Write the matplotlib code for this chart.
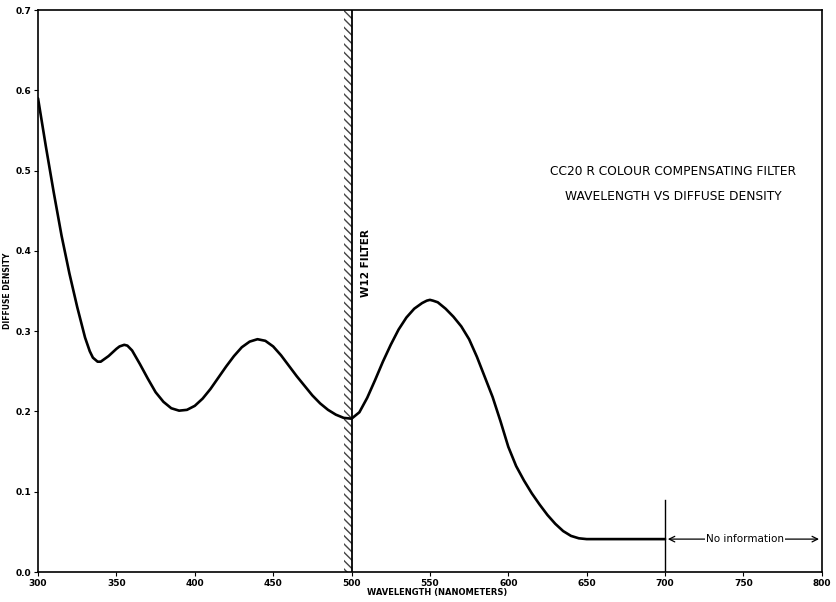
import matplotlib
matplotlib.use('Agg')
from matplotlib import pyplot as plt
import numpy as np

# wavelength (nm) and diffuse density
wavelength = [300, 305, 310, 315, 320, 325, 330, 333, 335, 338, 340, 345, 350, 352,
              355, 357, 360, 365, 370, 375, 380, 385, 390, 395, 400, 405, 410, 415,
              420, 425, 430, 435, 440, 445, 450, 455, 460, 465, 470, 475, 480, 485,
              490, 495, 500, 505, 510, 515, 520, 525, 530, 535, 540, 545, 548, 550,
              552, 555, 560, 565, 570, 575, 580, 585, 590, 595, 600, 605, 610, 615,
              620, 625, 630, 635, 640, 645, 650, 700]
density = [0.590, 0.530, 0.473, 0.419, 0.372, 0.330, 0.292, 0.275, 0.267, 0.262,
           0.262, 0.269, 0.278, 0.281, 0.283, 0.282, 0.276, 0.259, 0.241, 0.224,
           0.212, 0.204, 0.201, 0.202, 0.207, 0.216, 0.228, 0.242, 0.256, 0.269,
           0.280, 0.287, 0.290, 0.288, 0.281, 0.270, 0.257, 0.244, 0.232, 0.220,
           0.210, 0.202, 0.196, 0.192, 0.191, 0.199, 0.217, 0.239, 0.262, 0.283,
           0.302, 0.317, 0.328, 0.335, 0.338, 0.339, 0.338, 0.336, 0.328, 0.318,
           0.306, 0.290, 0.268, 0.243, 0.218, 0.188, 0.156, 0.132, 0.114, 0.098,
           0.084, 0.071, 0.060, 0.051, 0.045, 0.042, 0.041, 0.041]

x_ticks = [300, 350, 400, 450, 500, 550, 600, 650, 700, 750, 800]
y_ticks = [0.0, 0.1, 0.2, 0.3, 0.4, 0.5, 0.6, 0.7]
y_labels = ['0.0', '0.1', '0.2', '0.3', '0.4', '0.5', '0.6', '0.7']

filter_edge = 500
info_limit = 700
info_level = 0.041

plt.rcParams['font.family'] = ['DejaVu Sans']

fig = plt.figure(figsize=(8.36, 6.02), dpi=100)
ax = fig.add_axes([0.0455, 0.0498, 0.9375, 0.9335])

#the filter curve
ax.plot(wavelength, density, color='black', lw=1.9, solid_joinstyle='round',
        solid_capstyle='round')

#W12 filter cut-off, hatched strip
ax.axvline(filter_edge, color='black', lw=1.3)
ax.axvspan(filter_edge - 4.5, filter_edge, facecolor='white', edgecolor='#444444',
           hatch='\\\\\\\\', lw=0)
ax.text(filter_edge + 9, 0.385, 'W12 FILTER', rotation=90, ha='center', va='center',
        fontsize=7.5, fontweight='bold')

#no information region
ax.plot([info_limit, info_limit], [0, 0.09], color='black', lw=1.0)
ax.annotate('', xy=(800, info_level), xytext=(info_limit, info_level),
            arrowprops=dict(arrowstyle='<->', lw=0.9, color='black'))
ax.text(751, info_level, 'No information', ha='center', va='center', fontsize=7.5,
        bbox=dict(facecolor='white', edgecolor='none', pad=1))

#titles inside the plot
ax.text(705, 0.4995, 'CC20 R COLOUR COMPENSATING FILTER', ha='center', va='center',
        fontsize=8.8)
ax.text(705, 0.468, 'WAVELENGTH VS DIFFUSE DENSITY', ha='center', va='center',
        fontsize=8.8)

ax.set_xlim(300, 800)
ax.set_ylim(0, 0.7)
ax.set_xticks(x_ticks)
ax.set_yticks(y_ticks)
ax.set_yticklabels(y_labels)
ax.tick_params(labelsize=6.5, length=3, width=0.8, pad=2)
for lab in ax.get_xticklabels() + ax.get_yticklabels():
    lab.set_fontweight('bold')
for sp in ax.spines.values():
    sp.set_linewidth(1.2)

ax.set_xlabel('WAVELENGTH (NANOMETERS)', fontsize=6, fontweight='bold', labelpad=3)
ax.set_ylabel('DIFFUSE DENSITY', fontsize=5.5, fontweight='bold', labelpad=2)
ax.xaxis.set_label_coords(0.509, -0.028)

fig.savefig('out.png', dpi=100, facecolor='white')
